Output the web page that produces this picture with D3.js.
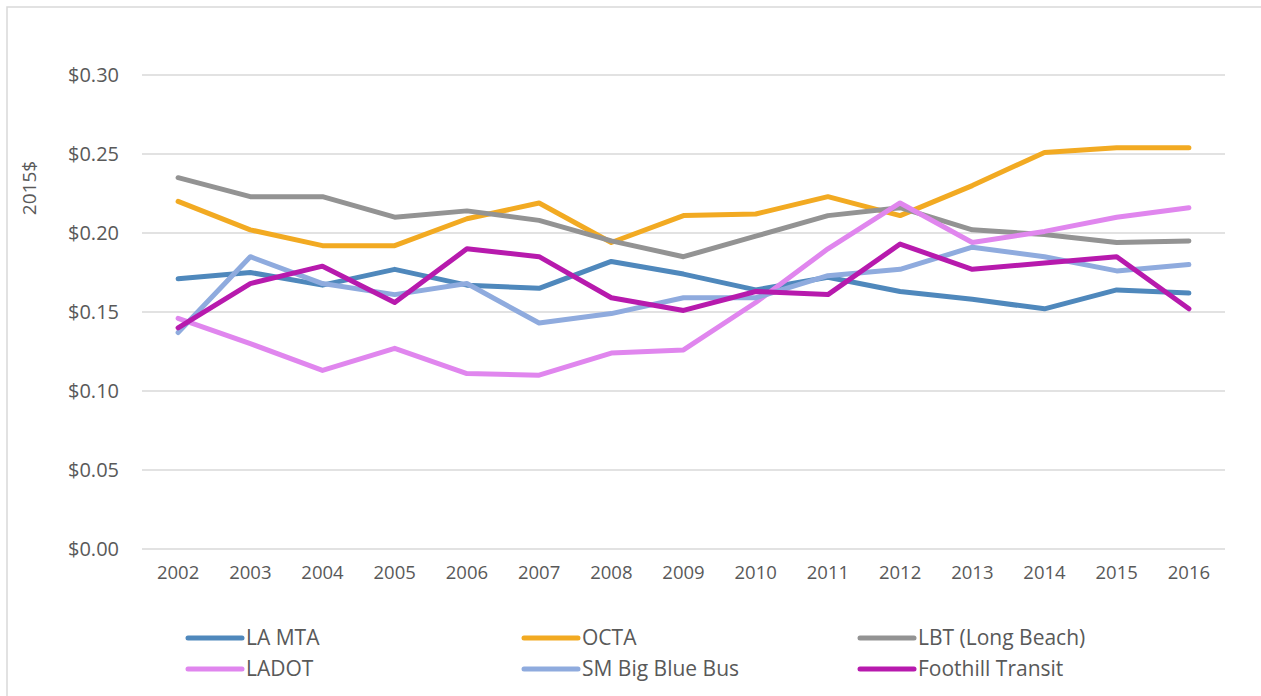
<!DOCTYPE html>
<html>
<head>
<meta charset="utf-8">
<script src="https://cdn.jsdelivr.net/npm/d3@7"></script>
<style>
  body { margin: 0; background: #fff; }
  svg { display: block; font-family: "Open Sans", sans-serif; }
</style>
</head>
<body>
<svg id="drawing_region"></svg>
<script>
// years along the x axis
const years = [2002, 2003, 2004, 2005, 2006, 2007, 2008, 2009, 2010, 2011, 2012, 2013, 2014, 2015, 2016];

// cost per passenger mile, 2015$
const laMta    = [0.171, 0.175, 0.167, 0.177, 0.167, 0.165, 0.182, 0.174, 0.164, 0.172, 0.163, 0.158, 0.152, 0.164, 0.162];
const octa     = [0.220, 0.202, 0.192, 0.192, 0.209, 0.219, 0.194, 0.211, 0.212, 0.223, 0.211, 0.230, 0.251, 0.254, 0.254];
const lbt      = [0.235, 0.223, 0.223, 0.210, 0.214, 0.208, 0.195, 0.185, 0.198, 0.211, 0.216, 0.202, 0.199, 0.194, 0.195];
const ladot    = [0.146, 0.130, 0.113, 0.127, 0.111, 0.110, 0.124, 0.126, 0.156, 0.190, 0.219, 0.194, 0.201, 0.210, 0.216];
const smBbb    = [0.137, 0.185, 0.168, 0.161, 0.168, 0.143, 0.149, 0.159, 0.159, 0.173, 0.177, 0.191, 0.185, 0.176, 0.180];
const foothill = [0.140, 0.168, 0.179, 0.156, 0.190, 0.185, 0.159, 0.151, 0.163, 0.161, 0.193, 0.177, 0.181, 0.185, 0.152];

const seriesNames = ['LA MTA', 'OCTA', 'LBT (Long Beach)', 'LADOT', 'SM Big Blue Bus', 'Foothill Transit'];
const seriesValues = [laMta, octa, lbt, ladot, smBbb, foothill];
const colors = ['#4f88bc', '#f2aa22', '#939393', '#e086ee', '#8fabde', '#b71aad'];

const yTicks = [0, 0.05, 0.10, 0.15, 0.20, 0.25, 0.30];

const width = 1261, height = 696;
const margin = {top: 75, left: 142, right: 36, bottom: 147};

const svg = d3.select('#drawing_region')
    .attr('width', width)
    .attr('height', height);

// chart frame (top and left edges are visible)
svg.append('path')
    .attr('d', `M7,${height} V7 H${width}`)
    .attr('fill', 'none')
    .attr('stroke', '#d9d9d9')
    .attr('stroke-width', 1.5);

const innerW = width - margin.left - margin.right;
const innerH = height - margin.top - margin.bottom;

const chart = svg.append('g')
    .attr('transform', `translate(${margin.left}, ${margin.top})`);

const xscale = d3.scaleBand()
    .domain(years)
    .range([0, innerW]);

const yscale = d3.scaleLinear()
    .domain([0, 0.30])
    .range([innerH, 0]);

// gridlines
chart.append('g')
    .selectAll('line')
    .data(yTicks)
    .join('line')
    .attr('x1', 0)
    .attr('x2', innerW)
    .attr('y1', d => yscale(d))
    .attr('y2', d => yscale(d))
    .attr('stroke', '#d9d9d9')
    .attr('stroke-width', 1.5);

// y axis labels
const yaxis = d3.axisLeft(yscale)
    .tickValues(yTicks)
    .tickFormat(d => '$' + d3.format('.2f')(d))
    .tickSize(0)
    .tickPadding(23);

const yg = chart.append('g').call(yaxis);
yg.select('.domain').remove();
yg.selectAll('text')
    .attr('fill', '#595959')
    .style('font-size', '20px')
    .style('font-family', '"Open Sans", sans-serif');

// x axis labels
const xaxis = d3.axisBottom(xscale)
    .tickSize(0)
    .tickPadding(17);

const xg = chart.append('g')
    .attr('transform', `translate(0, ${innerH})`)
    .call(xaxis);
xg.select('.domain').remove();
xg.selectAll('text')
    .attr('fill', '#595959')
    .style('font-size', '18.5px')
    .style('font-family', '"Open Sans", sans-serif');

// y axis title
svg.append('text')
    .attr('transform', 'translate(36, 188) rotate(-90)')
    .attr('text-anchor', 'middle')
    .attr('fill', '#595959')
    .style('font-size', '19px')
    .text('2015$');

// lines
const line = d3.line()
    .x((d, i) => xscale(years[i]) + xscale.bandwidth() / 2)
    .y(d => yscale(d));

chart.append('g')
    .selectAll('path')
    .data(seriesValues)
    .join('path')
    .attr('d', d => line(d))
    .attr('fill', 'none')
    .attr('stroke', (d, i) => colors[i])
    .attr('stroke-width', 5)
    .attr('stroke-linejoin', 'round')
    .attr('stroke-linecap', 'round');

// legend
const legend = svg.append('g');
const items = legend.selectAll('g')
    .data(seriesNames)
    .join('g')
    .attr('transform', (d, i) => `translate(${188 + (i % 3) * 336}, ${638 + Math.floor(i / 3) * 31})`);

items.append('line')
    .attr('x1', 0)
    .attr('x2', 54)
    .attr('stroke', (d, i) => colors[i])
    .attr('stroke-width', 5)
    .attr('stroke-linecap', 'round');

items.append('text')
    .attr('x', 58)
    .attr('dy', '0.35em')
    .attr('fill', '#595959')
    .style('font-size', '21px')
    .text(d => d);
</script>
</body>
</html>
